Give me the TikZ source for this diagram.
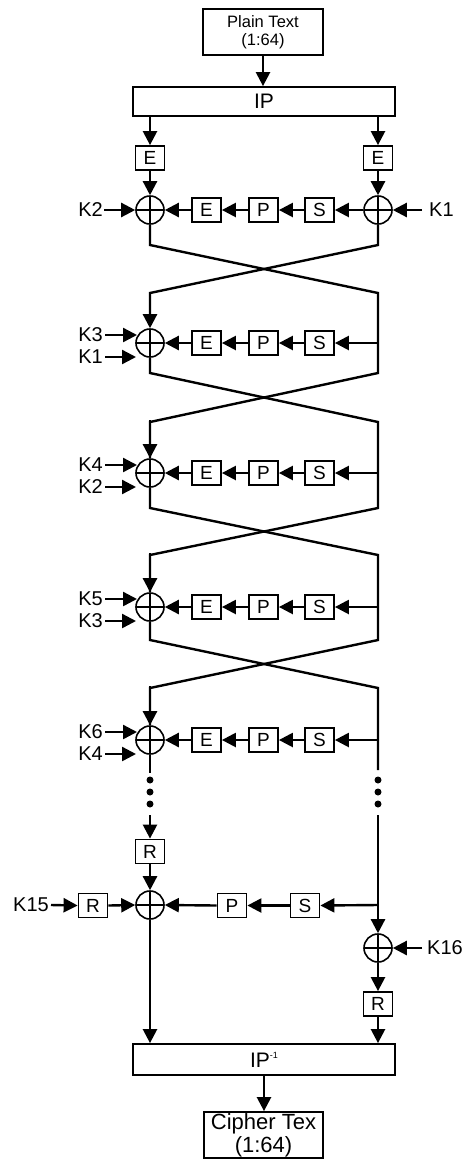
\documentclass[tikz,border=0pt]{standalone}
\usepackage{fontspec}
\setmainfont{Liberation Sans}
\usetikzlibrary{arrows.meta}
\begin{document}
\begin{tikzpicture}[x=1pt,y=-1pt,
  line width=2.4pt,
  arr/.style={-{Triangle[length=14pt,width=14pt]}},
  fbox/.style={draw, line width=1.8pt, minimum width=29pt, minimum height=24pt, inner sep=0pt, font=\fontsize{19}{19}\selectfont},
  xor/.style={draw, circle, line width=1.6pt, minimum size=28pt, inner sep=0pt,
    path picture={\draw[line width=1.6pt] (path picture bounding box.north) -- (path picture bounding box.south) (path picture bounding box.west) -- (path picture bounding box.east);}},
  klab/.style={font=\fontsize{20}{20}\selectfont, inner sep=0pt, anchor=east},
  wide/.style={draw, line width=1.8pt, minimum width=262pt, inner sep=0pt, font=\fontsize{21}{21}\selectfont},
  dot/.style={circle, fill, inner sep=0pt, minimum size=7pt}
]
\useasboundingbox (0,0) rectangle (462,1160);

% top
\node[draw, line width=1.8pt, minimum width=120pt, minimum height=46pt, inner sep=0pt, align=center, font=\fontsize{16.5}{18}\selectfont] (pt) at (263,32) {Plain Text\\(1:64)};
\node[wide, minimum height=29pt] (ip) at (264,101.5) {IP};
\draw[arr] (pt.south) -- (pt.south |- ip.north);

% round 1
\node[fbox] (eL) at (150,158) {E};
\node[fbox] (eR) at (378,158) {E};
\draw[arr] (ip.south -| eL) -- (eL.north);
\draw[arr] (ip.south -| eR) -- (eR.north);
\node[xor] (x1L) at (150,210) {};
\node[xor] (x1R) at (378,210) {};
\draw[arr] (eL.south) -- (x1L.north);
\draw[arr] (eR.south) -- (x1R.north);
\node[fbox] (e1) at (206.5,210) {E};
\node[fbox] (p1) at (263.5,210) {P};
\node[fbox] (s1) at (319.5,210) {S};
\node[klab] (k2a) at (104,210) {K2};
\node[klab, anchor=west] (k1a) at (428,210) {K1};
\draw[arr] (k2a.east) -- (x1L.west);
\draw[arr] ([xshift=-6pt]k1a.west) -- (x1R.east);
\draw[arr] (x1R.west) -- (s1.east);
\draw[arr] (s1.west) -- (p1.east);
\draw[arr] (p1.west) -- (e1.east);
\draw[arr] (e1.west) -- (x1L.east);

% rounds 2-5
\node[xor] (x2) at (150,343) {};
\node[xor] (x3) at (150,473) {};
\node[xor] (x4) at (150,607) {};
\node[xor] (x5) at (150,740) {};
\coordinate (r2) at (378,343);
\coordinate (r3) at (378,473);
\coordinate (r4) at (378,607);
\coordinate (r5) at (378,740);

% crossings
\draw[arr] (x1R.south) -- (378,245) -- (150,293) -- (x2.north);
\draw (x1L.south) -- (150,245) -- (378,293) -- (378,373) -- (150,422) -- (x3.north);
\draw[arr] (150,420) -- (x3.north);
\draw (x2.south) -- (150,373) -- (378,422) -- (378,508) -- (150,555) -- (x4.north);
\draw[arr] (150,553) -- (x4.north);
\draw (x3.south) -- (150,508) -- (378,555) -- (378,640) -- (150,688) -- (x5.north);
\draw[arr] (150,686) -- (x5.north);
\draw (x4.south) -- (150,640) -- (378,688) -- (378,770);

\foreach \r/\ka/\kb in {2/K3/K1, 3/K4/K2, 4/K5/K3, 5/K6/K4} {
  \node[fbox] (e\r) at (206.5,0 |- x\r) {E};
  \node[fbox] (p\r) at (263.5,0 |- x\r) {P};
  \node[fbox] (s\r) at (319.5,0 |- x\r) {S};
  \node[klab] (ka\r) at ([yshift=8pt]104,0 |- x\r) {\ka};
  \node[klab] (kb\r) at ([yshift=-14pt]104,0 |- x\r) {\kb};
  \draw[arr] ([xshift=1pt]ka\r.east) -- (ka\r.east -| 137,0);
  \draw[arr] ([xshift=1pt]kb\r.east) -- (kb\r.east -| 136,0);
  \draw[arr] (r\r) -- (s\r.east);
  \draw[arr] (s\r.west) -- (p\r.east);
  \draw[arr] (p\r.west) -- (e\r.east);
  \draw[arr] (e\r.west) -- (x\r.east);
}

% dots
\draw (x5.south) -- (150,773);
\foreach \y [count=\i] in {780,792,804} {
  \node[dot] (dl\i) at (150,\y) {};
  \node[dot] (dr\i) at (378,\y) {};
}

% final rounds
\node[fbox] (rL) at (150,851.5) {R};
\draw[arr] (150,815) -- (rL.north);
\node[xor] (x15) at (150,905) {};
\node[xor] (x16) at (378,948) {};
\draw[arr] (378,815) -- (x16.north);
\coordinate (b15) at (378,905);
\node[fbox] (s15) at (305,905.5) {S};
\node[fbox] (p15) at (232,905.5) {P};
\node[fbox] (rK) at (93,905.5) {R};
\node[klab] (k15) at (50,905) {K15};
\draw[arr] (rL.south) -- (x15.north);
\draw[arr] ([xshift=1pt]k15.east) -- (rK.west);
\draw[arr] (rK.east) -- (x15.west);
\draw[arr] (b15) -- (s15.east);
\draw[arr] (s15.west) -- (p15.east);
\draw[arr] (p15.west) -- (x15.east);
\node[klab, anchor=west] (k16) at (426,948) {K16};
\draw[arr] ([xshift=-4pt]k16.west) -- (x16.east);
\node[fbox] (rR) at (378,1004) {R};
\draw[arr] (x16.south) -- (rR.north);

\node[wide, minimum height=31pt] (ipi) at (264,1059.5) {IP\raisebox{9pt}{\fontsize{9}{9}\selectfont -1}};
\draw[arr] (rR.south) -- (rR.south |- ipi.north);
\draw[arr] (x15.south) -- (x15.south |- ipi.north);

\node[draw, line width=1.8pt, minimum width=119pt, minimum height=46pt, inner sep=0pt, align=center, font=\fontsize{22}{23}\selectfont] (ct) at (263.5,1135) {Cipher Tex\\(1:64)};
\draw[arr] (ipi.south) -- (ipi.south |- ct.north);
\end{tikzpicture}
\end{document}
